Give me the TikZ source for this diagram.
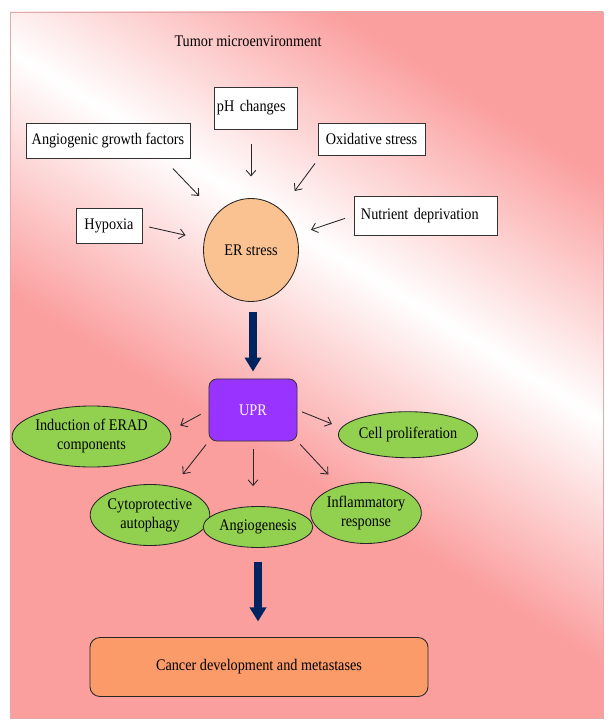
\documentclass[tikz,border=0pt]{standalone}
\usepackage{fontspec}
\setmainfont[FakeStretch=0.88]{Liberation Serif}
\usetikzlibrary{shapes.geometric,arrows.meta}

\definecolor{bgpink}{RGB}{251,158,158}
\definecolor{erpeach}{RGB}{250,194,145}
\definecolor{uprpurple}{RGB}{153,51,255}
\definecolor{upgreen}{RGB}{146,208,80}
\definecolor{cancerorange}{RGB}{250,155,105}
\definecolor{navy}{RGB}{0,36,96}
\definecolor{framegrey}{RGB}{225,170,170}

\pgfdeclareverticalshading{tmeband}{100bp}{color(0bp)=(bgpink); color(40bp)=(bgpink); color(50bp)=(white); color(60bp)=(bgpink); color(100bp)=(bgpink)}

\tikzset{
  factor/.style={draw=black!80, fill=white, line width=0.6pt, inner sep=0pt},
  effect/.style={ellipse, draw=black!85, fill=upgreen, line width=0.6pt, inner sep=0pt, align=center},
  thin arrow/.style={-{Straight Barb[length=4pt,width=7pt]}, line width=0.6pt, black!85},
  big arrow/.style={-{Triangle[length=0.35cm,width=0.4cm]}, line width=0.2cm, navy}
}

\begin{document}
\begin{tikzpicture}[x=0.025cm, y=-0.025cm, font=\fontsize{11.5}{13.5}\selectfont]
  \useasboundingbox (0,0) rectangle (611,728);
  \begin{scope}
    \clip (10,12) rectangle (603,718);
    \shade[shading=tmeband, shading angle=-32] (-240,-300) rectangle (800,740);
  \end{scope}
  \draw[framegrey, line width=0.5pt] (10,12) rectangle (603,718);

  \node (tme) at (248,41) {Tumor microenvironment};
  \node[factor, minimum width=2.075cm, minimum height=1.05cm, text width=1.925cm, align=left] (ph) at (255.5,108) {pH changes};
  \node[factor, minimum width=4.1cm, minimum height=0.875cm] (agf) at (108,140.5) {Angiogenic growth factors};
  \node[factor, minimum width=2.675cm, minimum height=0.8cm] (ox) at (371.5,139) {Oxidative stress};
  \node[factor, minimum width=1.65cm, minimum height=0.875cm] (hyp) at (109,225.5) {Hypoxia};
  \node[factor, minimum width=3.575cm, minimum height=0.975cm, text width=3.225cm, align=left] (nut) at (425.5,215.5) {Nutrient deprivation};
  \node[ellipse, draw=black!85, fill=erpeach, line width=0.6pt, minimum width=2.375cm, minimum height=2.575cm, inner sep=0pt] (er) at (251,250) {ER stress};

  \draw[thin arrow, shorten <=0.35cm, shorten >=0.625cm] (agf.-18) -- (er);
  \draw[thin arrow, shorten <=0.375cm, shorten >=0.54cm] (er.north |- ph.south) -- (er.north);
  \draw[thin arrow, shorten <=0.25cm, shorten >=0.575cm] (ox.-162) -- (er);
  \draw[thin arrow, shorten <=0.175cm, shorten >=0.475cm] (hyp.east) -- (er);
  \draw[thin arrow, shorten <=0.225cm, shorten >=0.375cm] (nut.west) -- (er);

  \node[draw=black!80, fill=uprpurple, text=white, line width=0.6pt, rounded corners=0.2cm, minimum width=2.2cm, minimum height=1.55cm] (upr) at (253,410) {UPR};
  \draw[big arrow, shorten <=0.26cm, shorten >=0.175cm] (upr.north |- er.south) -- (upr.north);

  \node[effect, minimum width=3.175cm, minimum height=1.525cm] (erad) at (91.5,436.5) {Induction of ERAD\\components};
  \node[effect, minimum width=3.1cm, minimum height=1.15cm] (cell) at (408,434.7) {Cell proliferation};
  \node[effect, minimum width=2.45cm, minimum height=1.525cm] (cyto) at (150,515) {Cytoprotective\\autophagy};
  \node[effect, minimum width=2.3cm, minimum height=1.025cm] (angio) at (258,527) {Angiogenesis};
  \node[effect, minimum width=2.55cm, minimum height=1.525cm] (infl) at (366,513) {Inflammatory\\response};

  \draw[thin arrow, shorten <=0.225cm, shorten >=0.29cm] (upr.west) -- (erad.4);
  \draw[thin arrow, shorten <=0.125cm, shorten >=0.25cm] (upr.east) -- (cell.174);
  \draw[thin arrow, shorten <=0.1cm, shorten >=0.39cm] (upr.south west) -- (cyto.51);
  \draw[thin arrow, shorten <=0.2cm, shorten >=0.5cm] (upr.south) -- (upr.south |- angio.north);
  \draw[thin arrow, shorten <=0.1cm, shorten >=0.39cm] (upr.south east) -- (infl.135);

  \node[draw=black!85, fill=cancerorange, line width=0.6pt, rounded corners=0.25cm, minimum width=8.45cm, minimum height=1.475cm] (cancer) at (259,667) {Cancer development and metastases};
  \draw[big arrow, shorten <=0.36cm, shorten >=0.39cm] (angio.south) -- (angio.south |- cancer.north);
\end{tikzpicture}
\end{document}
